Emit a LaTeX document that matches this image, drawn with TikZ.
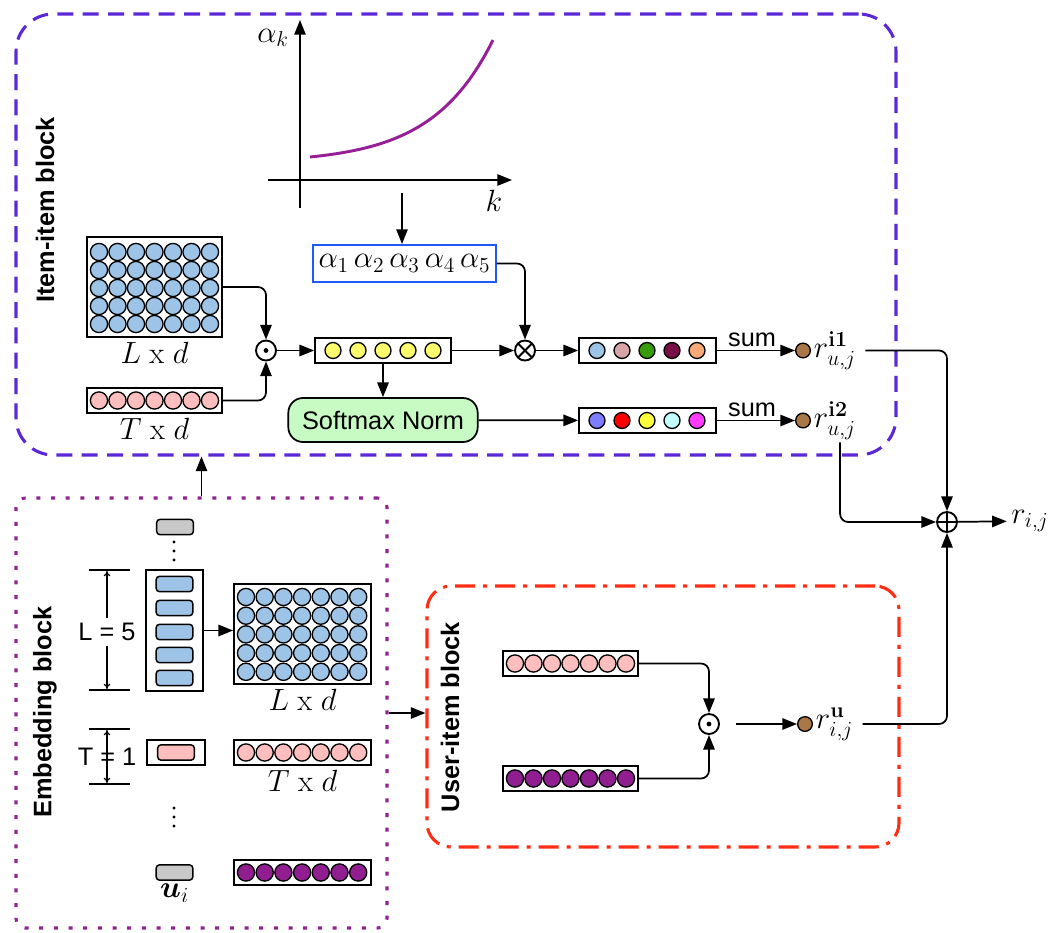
\RequirePackage{fix-cm}
\documentclass[tikz,border=0pt]{standalone}
\usepackage[no-math]{fontspec}
\setmainfont{Liberation Sans}
\usepackage{amsmath,amssymb,bm}
\usetikzlibrary{arrows.meta,positioning,fit,calc}

\definecolor{itemline}{RGB}{90,40,215}
\definecolor{embline}{RGB}{145,35,145}
\definecolor{userline}{RGB}{255,45,20}
\definecolor{cellblue}{RGB}{157,195,230}
\definecolor{cellpink}{RGB}{255,190,190}
\definecolor{cellpurple}{RGB}{145,30,145}
\definecolor{cellyellow}{RGB}{255,255,110}
\definecolor{softgreen}{RGB}{200,250,195}
\definecolor{alphablue}{RGB}{30,90,250}
\definecolor{dotbrown}{RGB}{170,120,70}
\definecolor{tokgray}{RGB}{200,200,200}
\definecolor{curvepurple}{RGB}{150,30,150}
\definecolor{oa}{RGB}{157,195,230}
\definecolor{ob}{RGB}{215,165,165}
\definecolor{oc}{RGB}{55,155,10}
\definecolor{od}{RGB}{120,15,70}
\definecolor{oe}{RGB}{250,170,120}
\definecolor{pa}{RGB}{125,125,255}
\definecolor{pb}{RGB}{255,0,0}
\definecolor{pc}{RGB}{255,255,60}
\definecolor{pd}{RGB}{195,255,255}
\definecolor{pe}{RGB}{255,60,255}

\begin{document}
\begin{tikzpicture}[
  x=0.75pt,y=-0.75pt,
  font=\fontsize{19}{23}\selectfont,
  >={Triangle[length=11pt,width=8.5pt]},
  mlbl/.style={font=\fontsize{23}{27}\selectfont},
  vecbox/.style={draw=black,line width=1.3pt,fill=white,inner sep=0pt},
  cell/.style={draw=black,line width=1pt},
  tok/.style={draw=black,line width=1.1pt,rounded corners=2.5pt,inner sep=0pt,
              minimum width=27.5pt,minimum height=11.5pt},
  flow/.style={->,line width=1.3pt,rounded corners=6pt},
  axis/.style={->,line width=1.3pt},
  curve/.style={line width=2.2pt,draw=curvepurple},
  dimarrow/.style={->,>={To[length=4pt,width=5pt]},line width=0.9pt},
  tick/.style={line width=0.9pt},
  opnode/.style={circle,draw=black,line width=1.4pt,inner sep=0pt,minimum size=15pt},
  odot/.style={opnode,path picture={\fill (path picture bounding box.center) circle (1.8pt);}},
  otim/.style={opnode,path picture={\draw[line width=1.4pt]
      (path picture bounding box.north west) -- (path picture bounding box.south east)
      (path picture bounding box.south west) -- (path picture bounding box.north east);}},
  opls/.style={opnode,path picture={\draw[line width=1.4pt]
      (path picture bounding box.north) -- (path picture bounding box.south)
      (path picture bounding box.west) -- (path picture bounding box.east);}},
  rdot/.style={circle,draw=black,line width=1pt,fill=dotbrown,minimum size=11pt,inner sep=0pt},
  itemblk/.style={draw=itemline,line width=2.3pt,rounded corners=28pt,inner sep=0pt,
                  dash pattern=on 12pt off 7pt},
  embblk/.style={draw=embline,line width=2.3pt,rounded corners=7pt,inner sep=0pt,
                 dash pattern=on 3pt off 8pt},
  userblk/.style={draw=userline,line width=2.3pt,rounded corners=18pt,inner sep=0pt,
                  dash pattern=on 15pt off 6pt on 3pt off 6pt},
  blklbl/.style={font=\fontsize{19}{23}\selectfont\bfseries,rotate=90},
]
\useasboundingbox (0,0) rectangle (1060,932);

% ---- item-item block ------------------------------------------------------
\node[itemblk,fit={(16,14) (896,455)}] (itemblock) {};
\node[blklbl] (itemlbl) at (45,210) {Item-item block};

% decay curve alpha_k over k
\coordinate (yb) at (300,208);
\coordinate (yt) at (300,20);
\coordinate (xl) at (268,180);
\coordinate (xr) at (512,180);
\draw[axis] (yb) -- (yt);
\draw[axis] (xl) -- (xr);
\node[mlbl] (aklbl) at (273,38) {$\alpha_k$};
\node[mlbl] (klbl) at (494,201) {$k$};
\draw[curve] plot[domain=0:1,samples=40] ({310+183*\x},{157-117*(exp(3*\x)-1)/19.0855});

\coordinate (kdown) at (402,193);
\node[mlbl,draw=alphablue,line width=1.3pt,minimum width=137pt,minimum height=28pt,inner sep=0pt]
  (alpha) at (404.5,263.5) {$\alpha_1\,\alpha_2\,\alpha_3\,\alpha_4\,\alpha_5$};
\draw[flow] (kdown) -- (kdown |- alpha.north);

% history matrix and target row
\node[vecbox,fit={(87,237) (222,337)}] (hist) {};
\foreach \c in {0,...,6}
  \foreach \r in {0,...,4}
    \draw[cell,fill=cellblue] (99+18.5*\c,252+18*\r) circle (8.6);
\node[mlbl,below=0pt of hist] (histlbl) {$L\ \mathrm{x}\ d$};

\node[vecbox,fit={(87,388) (222,413)}] (tgt) {};
\foreach \c in {0,...,6}
  \draw[cell,fill=cellpink] (99+18.5*\c,400.5) circle (8.6);
\node[mlbl,below=0pt of tgt] (tgtlbl) {$T\ \mathrm{x}\ d$};

\node[odot] (had) at (266,350.5) {};
\draw[flow] (hist.east) -| (had.north);
\draw[flow] (tgt.east) -| (had.south);

\node[vecbox,fit={(315,338) (451,363)}] (att) {};
\foreach \c in {0,...,4}
  \draw[cell,fill=cellyellow] (333+25*\c,350.5) circle (8);
\draw[flow] (had) -- (att);

\node[otim] (wmul) at (525,350.5) {};
\draw[flow] (att) -- (wmul);
\draw[flow] (alpha.east) -| (wmul.north);

\node[draw=black,line width=1.3pt,fill=softgreen,rounded corners=11pt,
      minimum width=142pt,minimum height=33pt] (soft) at (383,420) {Softmax Norm};
\draw[flow] (att) -- (soft);

% weighted outputs
\node[vecbox,fit={(579,338) (716,363)}] (out1) {};
\foreach \col [count=\i from 0] in {oa,ob,oc,od,oe}
  \draw[cell,fill=\col] (597+25*\i,350.5) circle (8);
\node[vecbox,fit={(579,408) (716,433)}] (out2) {};
\foreach \col [count=\i from 0] in {pa,pb,pc,pd,pe}
  \draw[cell,fill=\col] (597+25*\i,420.5) circle (8);
\draw[flow] (wmul) -- (out1);
\draw[flow] (soft) -- (out2);

\node[rdot] (r1) at (803,350.5) {};
\node[rdot] (r2) at (803,420.5) {};
\draw[flow] (out1) -- node[above,inner sep=2pt,pos=0.45] {sum} (r1);
\draw[flow] (out2) -- node[above,inner sep=2pt,pos=0.45] {sum} (r2);
\node[mlbl,right=0pt of r1,inner sep=2pt] (r1lbl) {$r^{\mathbf{i1}}_{u,j}$};
\node[mlbl,right=0pt of r2,inner sep=2pt] (r2lbl) {$r^{\mathbf{i2}}_{u,j}$};

% ---- final sum ------------------------------------------------------------
\node[opls] (sumall) at (947,522) {};
\node[mlbl] (rij) at (1030,521) {$r_{i,j}$};
\draw[flow,shorten <=5pt] (r1lbl.east) -| (sumall.north);
\draw[flow] ([xshift=-14pt]r2lbl.south east) |- (sumall.west);
\draw[flow] (sumall) -- (rij);

% ---- user-item block ------------------------------------------------------
\node[userblk,fit={(427,586) (899,847)}] (userblock) {};
\node[blklbl] (userlbl) at (450,717) {User-item block};

\node[vecbox,fit={(503,651) (638,676)}] (uitgt) {};
\foreach \c in {0,...,6}
  \draw[cell,fill=cellpink] (515+18.5*\c,663.5) circle (8.6);
\node[vecbox,fit={(503,766) (638,791)}] (uiusr) {};
\foreach \c in {0,...,6}
  \draw[cell,fill=cellpurple] (515+18.5*\c,778.5) circle (8.6);

\node[odot] (had2) at (709,724) {};
\draw[flow] (uitgt.east) -| (had2.north);
\draw[flow] (uiusr.east) -| (had2.south);
\node[rdot] (ru) at (805,724) {};
\draw[flow,shorten <=12pt] (had2) -- (ru);
\node[mlbl,right=0pt of ru,inner sep=2pt] (rulbl) {$r^{\mathbf{u}}_{i,j}$};
\draw[flow,shorten <=5pt] (rulbl.east) -| (sumall.south);

% ---- embedding block ------------------------------------------------------
\node[embblk,fit={(16,498) (387,928)}] (embblock) {};
\node[blklbl] (emblbl) at (45,712) {Embedding block};
\draw[flow] (embblock.north) -- (embblock.north |- itemblock.south);
\draw[flow] (embblock.east) -- (embblock.east -| userblock.west);

\node[tok,fill=tokgray] (ufirst) at (175,527) {};
% vertical ellipsis dots
\coordinate (vd1) at (174,551);
\foreach \d in {-9,0,9} \fill ($(vd1)+(0,\d)$) circle (1.7);

\node[vecbox,fit={(146,570) (203,691)}] (seq) {};
\foreach \y [count=\i] in {584,608,632,655,678}
  \node[tok,fill=cellblue] (s\i) at (174.5,\y) {};

% L = 5 bracket
\coordinate (Ltop) at (107,571);
\coordinate (Lbot) at (107,689);
\draw[tick] (89,570) -- (130,570);
\draw[tick] (89,690) -- (130,690);
\node (Llbl) at (107,632) {L = 5};
\draw[dimarrow] (Llbl.north) -- (Ltop);
\draw[dimarrow] (Llbl.south) -- (Lbot);

\node[vecbox,fit={(234,584) (371,684)}] (embhist) {};
\foreach \c in {0,...,6}
  \foreach \r in {0,...,4}
    \draw[cell,fill=cellblue] (246+18.7*\c,597+18.7*\r) circle (8.6);
\node[mlbl,below=0pt of embhist] (embhistlbl) {$L\ \mathrm{x}\ d$};
\draw[flow] (seq.east) -- (seq.east -| embhist.west);

% T = 1 bracket
\coordinate (Ttop) at (107,730);
\coordinate (Tbot) at (107,783);
\draw[tick] (89,729) -- (130,729);
\draw[tick] (89,784) -- (130,784);
\draw[dimarrow,<->] (Ttop) -- (Tbot);
\node (Tlbl) at (107,757) {T = 1};

\node[vecbox,fit={(147,740) (205,765)}] (tgtseq) {};
\node[tok,fill=cellpink] (t1) at (176,752.5) {};
\node[vecbox,fit={(234,740) (371,765)}] (embtgt) {};
\foreach \c in {0,...,6}
  \draw[cell,fill=cellpink] (246+18.7*\c,752.5) circle (8.6);
\node[mlbl,below=0pt of embtgt] (embtgtlbl) {$T\ \mathrm{x}\ d$};

\coordinate (vd2) at (174,817);
\foreach \d in {-9,0,9} \fill ($(vd2)+(0,\d)$) circle (1.7);
\node[tok,fill=tokgray] (ulast) at (174.5,872.5) {};
\node[mlbl,below=0pt of ulast,inner sep=2pt] (ulbl) {$\bm{u}_i$};
\node[vecbox,fit={(234,860) (371,885)}] (embusr) {};
\foreach \c in {0,...,6}
  \draw[cell,fill=cellpurple] (246+18.7*\c,872.5) circle (8.6);

\end{tikzpicture}
\end{document}
